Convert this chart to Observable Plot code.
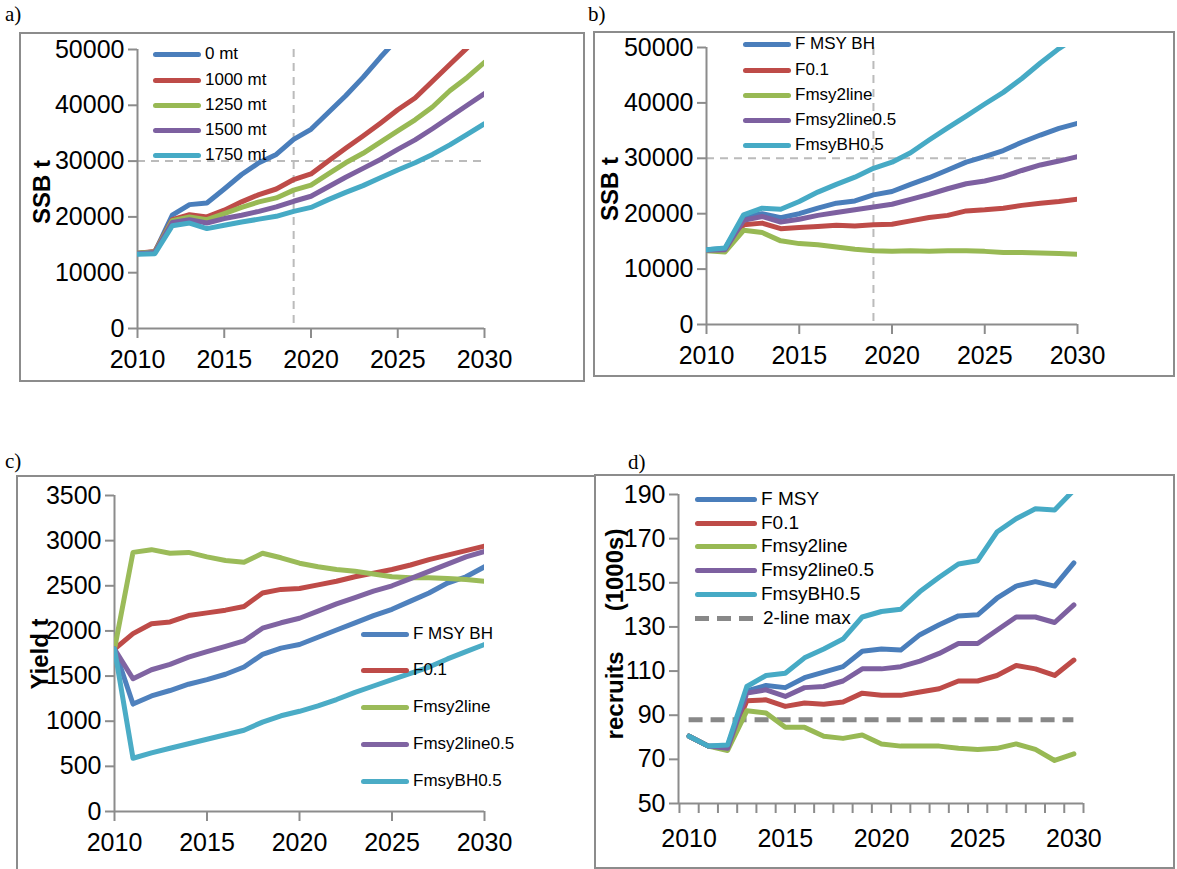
<!DOCTYPE html>
<html><head><meta charset="utf-8">
<script src="https://cdn.jsdelivr.net/npm/d3@7"></script>
<script src="https://cdn.jsdelivr.net/npm/@observablehq/plot@0.6"></script>
<style>
body{margin:0;background:#fff;font-family:"Liberation Sans",Arial,sans-serif}
#root{position:relative;width:1177px;height:869px;overflow:hidden}
.frame{position:absolute;border:2px solid #8c8c8c;box-sizing:border-box}
.plot{position:absolute}
.tag{position:absolute;font-family:"Liberation Serif",serif;font-size:21px}
.leg{position:absolute;display:flex;align-items:center;white-space:nowrap}
.sw{display:inline-block;height:5px;border-radius:3px;margin-right:4px}
.ylab{position:absolute;font-weight:bold;font-size:24px;transform:rotate(-90deg);transform-origin:center;white-space:nowrap;text-align:center}
</style></head><body><div id="root"></div>
<script>
const years = d3.range(2010, 2031)
const blue = '#4a7ebb', red = '#be4b48', green = '#98b954', purple = '#7d60a0', teal = '#46aac5'

// a) SSB under constant catch
const seriesA = ['0 mt', '1000 mt', '1250 mt', '1500 mt', '1750 mt']
const ssbA = [
  [13500,13700,20300,22200,22500,25000,27600,29700,31200,33900,35700,38700,41700,45000,48600,52000,55500,59000,62500,66000,69500],
  [13500,13800,19500,20400,20000,21200,22700,24000,25000,26700,27700,30000,32300,34500,36800,39200,41300,44300,47300,50300,53300],
  [13500,13700,19300,20000,19500,20600,21700,22700,23400,24800,25700,27700,29700,31400,33400,35400,37400,39700,42600,45000,47700],
  [13400,13600,19000,19500,18900,19700,20300,21000,21800,22800,23700,25400,27100,28700,30300,32100,33800,35800,37900,40000,42100],
  [13300,13400,18400,18900,17900,18500,19100,19600,20100,21000,21700,23100,24400,25600,27000,28400,29700,31200,32900,34800,36700]
]
// b) SSB under F rules
const seriesB = ['F MSY BH', 'F0.1', 'Fmsy2line', 'Fmsy2line0.5', 'FmsyBH0.5']
const ssbB = [
  [13500,13700,19400,20000,19300,20000,21000,21900,22300,23400,24000,25300,26500,27900,29300,30300,31400,32900,34200,35400,36300],
  [13400,13400,18000,18300,17300,17500,17700,17900,17800,18000,18100,18700,19300,19700,20500,20700,21000,21500,21900,22200,22600],
  [13300,13100,17000,16600,15100,14600,14400,14000,13600,13300,13200,13300,13200,13300,13300,13200,13000,13000,12900,12800,12700],
  [13400,13500,18800,19500,18500,19000,19700,20200,20700,21200,21700,22600,23500,24500,25400,25900,26700,27800,28800,29500,30300],
  [13500,13800,19800,21000,20800,22200,23900,25300,26600,28200,29300,31000,33300,35500,37600,39800,41900,44400,47200,49800,52000]
]
// c) Yield
const yieldC = [
  [1800,1190,1280,1340,1410,1460,1520,1600,1740,1810,1850,1930,2010,2090,2170,2240,2330,2420,2530,2600,2710],
  [1800,1970,2080,2100,2170,2200,2230,2270,2420,2460,2470,2510,2550,2600,2640,2680,2730,2790,2840,2890,2940],
  [1800,2870,2900,2860,2870,2820,2780,2760,2860,2810,2750,2710,2680,2660,2630,2600,2590,2590,2580,2570,2550],
  [1800,1470,1570,1630,1710,1770,1830,1890,2030,2090,2140,2220,2300,2370,2440,2500,2580,2660,2740,2820,2880],
  [1800,590,650,700,750,800,850,900,990,1060,1110,1170,1240,1320,1390,1460,1530,1600,1690,1770,1850]
]
// d) Recruits
const seriesD = ['F MSY', 'F0.1', 'Fmsy2line', 'Fmsy2line0.5', 'FmsyBH0.5']
const recD = [
  [80.5,76,76,101,103.5,102.5,107,109.5,112,119,120,119.5,126.5,131,135,135.5,143,148.5,150.5,148.5,159],
  [80.5,76,75,96.5,97,94,95.5,95,96,100,99,99,100.5,102,105.5,105.5,108,112.5,111,108,115],
  [80.5,76,74,92,91,84.5,84.5,80.5,79.5,81,77,76,76,76,75,74.5,75,77,74.5,69.5,72.5],
  [80.5,76,75,100,101.5,98.5,102.5,103,105.5,111,111,112,114.5,118,122.5,122.5,128.5,134.5,134.5,132,140],
  [80.5,76,76.5,103,108,109,116,120,124.5,134.5,137,138,146,152.5,158.5,160,173,179,183.5,183,192]
]
const twoLineMax = 88
const colors5 = [blue, red, green, purple, teal]

const root = document.getElementById('root')
function el(cls, css, html) {
  const d = document.createElement('div'); d.className = cls
  Object.assign(d.style, css); if (html) d.innerHTML = html
  root.appendChild(d); return d
}
function tidy(names, vals) {
  return names.flatMap((n, i) => vals[i].map((v, j) => ({s: n, year: years[j], v})))
}
function legend(names, cols, x, ys, swW, fs, dashedLast) {
  names.forEach((n, i) => {
    const dash = dashedLast && i == names.length - 1
    const sw = dash
      ? `<span style="display:inline-block;width:${swW}px;height:5px;margin-right:6px;background:repeating-linear-gradient(90deg,#888 0 14px,transparent 14px 22px)"></span>`
      : `<span class="sw" style="width:${swW}px;background:${cols[i]}"></span>`
    el('leg', {left: x + 'px', top: (ys[i] - 11) + 'px', fontSize: fs + 'px', height: '22px'}, sw + `<span>${n}</span>`)
  })
}
function panel(o) {
  el('frame', {left: o.fx + 'px', top: o.fy + 'px', width: o.fw + 'px', height: o.fh + 'px'})
  const data = tidy(o.names, o.vals)
  const xAxes = o.xbounds
    ? [Plot.axisX({ticks: o.xbounds, tickSize: 10, tickFormat: () => '', stroke: '#8c8c8c', strokeWidth: 2, label: null}),
       Plot.axisX({ticks: o.xticks, tickSize: 0, tickPadding: 26, label: null, tickFormat: d => String(d)})]
    : [Plot.axisX({ticks: o.xticks, tickSize: 10, tickPadding: 12, stroke: '#8c8c8c', strokeWidth: 2, label: null, tickFormat: d => String(d)})]
  const chart = Plot.plot({
    width: o.fw, height: o.fh,
    marginLeft: o.ml, marginTop: o.mt, marginRight: o.mr, marginBottom: o.mb,
    style: {fontSize: '25px', fontFamily: '"Liberation Sans",Arial,sans-serif', color: '#000', background: 'transparent'},
    x: {domain: o.xdom, axis: null},
    y: {domain: o.ydom, axis: null},
    color: {domain: o.names, range: o.cols},
    marks: [
      ...(o.extra || []),
      Plot.ruleY([o.ydom[0]], {stroke: '#8c8c8c', strokeWidth: 2}),
      Plot.ruleX([o.xdom[0]], {stroke: '#8c8c8c', strokeWidth: 2}),
      Plot.axisY({ticks: o.yticks, tickSize: 9, tickPadding: 4, stroke: '#8c8c8c', strokeWidth: 2, label: null, tickFormat: d3.format('d')}),
      ...xAxes,
      Plot.line(data, {x: 'year', y: 'v', z: 's', stroke: 's', strokeWidth: 5, clip: true})
    ]
  })
  chart.classList.add('plot')
  Object.assign(chart.style, {left: o.fx + 'px', top: o.fy + 'px'})
  root.appendChild(chart)
}
const fiveYears = [2010, 2015, 2020, 2025, 2030]

// a
el('tag', {left: '5px', top: '2px'}, 'a)')
panel({fx: 19, fy: 32, fw: 566, fh: 350, ml: 118, mt: 17, mr: 101, mb: 54,
  xdom: [2010, 2030], ydom: [0, 50000], xticks: fiveYears, yticks: d3.range(0, 50001, 10000),
  names: seriesA, vals: ssbA, cols: colors5,
  extra: [Plot.ruleY([30000], {stroke: '#bbb', strokeWidth: 2, strokeDasharray: '8,6'}),
          Plot.ruleX([2019], {stroke: '#bbb', strokeWidth: 2, strokeDasharray: '8,6'})]})
el('ylab', {left: '2px', top: '178px', width: '80px'}, 'SSB t')
legend(seriesA, colors5, 153, [54, 80, 105, 130, 155], 48, 17)

// b
el('tag', {left: '588px', top: '2px'}, 'b)')
panel({fx: 593, fy: 31, fw: 582, fh: 346, ml: 113, mt: 16, mr: 98, mb: 53,
  xdom: [2010, 2030], ydom: [0, 50000], xticks: fiveYears, yticks: d3.range(0, 50001, 10000),
  names: seriesB, vals: ssbB, cols: colors5,
  extra: [Plot.ruleY([30000], {stroke: '#bbb', strokeWidth: 2, strokeDasharray: '8,6'}),
          Plot.ruleX([2019], {stroke: '#bbb', strokeWidth: 2, strokeDasharray: '8,6'})]})
el('ylab', {left: '570px', top: '175px', width: '80px'}, 'SSB t')
legend(seriesB, colors5, 743, [44, 70, 95, 120, 145], 48, 17)

// c
const colorsC = ['#4f81bd', red, '#9bbb59', '#8064a2', '#4bacc6']
el('tag', {left: '5px', top: '449px'}, 'c)')
panel({fx: 16, fy: 475, fw: 580, fh: 400, ml: 98, mt: 20, mr: 112, mb: 64,
  xdom: [2010, 2030], ydom: [0, 3500], xticks: fiveYears, yticks: d3.range(0, 3501, 500),
  names: seriesB, vals: yieldC, cols: colorsC})
el('ylab', {left: '-5px', top: '640px', width: '90px'}, 'Yield t')
legend(seriesB, colorsC, 361, [634, 670, 707, 744, 781], 48, 17)

// d
el('tag', {left: '628px', top: '450px'}, 'd)')
panel({fx: 594, fy: 474, fw: 581, fh: 395, ml: 84, mt: 20, mr: 92, mb: 66,
  xdom: [2009.45, 2030.5], ydom: [50, 190], xticks: fiveYears, xbounds: d3.range(2009.5, 2031, 1), yticks: d3.range(50, 191, 20),
  names: seriesD, vals: recD, cols: colors5,
  extra: [Plot.ruleY([twoLineMax], {x1: 2010, x2: 2030, stroke: '#888', strokeWidth: 5, strokeDasharray: '14,8'})]})
el('ylab', {left: '505px', top: '620px', width: '220px'}, 'recruits &nbsp;&nbsp;&nbsp;&nbsp;&nbsp;(1000s)')
legend([...seriesD, '2-line max'], [...colors5, '#888'], 695, [499, 523, 546, 570, 594, 618], 62, 19, true)
</script></body></html>
